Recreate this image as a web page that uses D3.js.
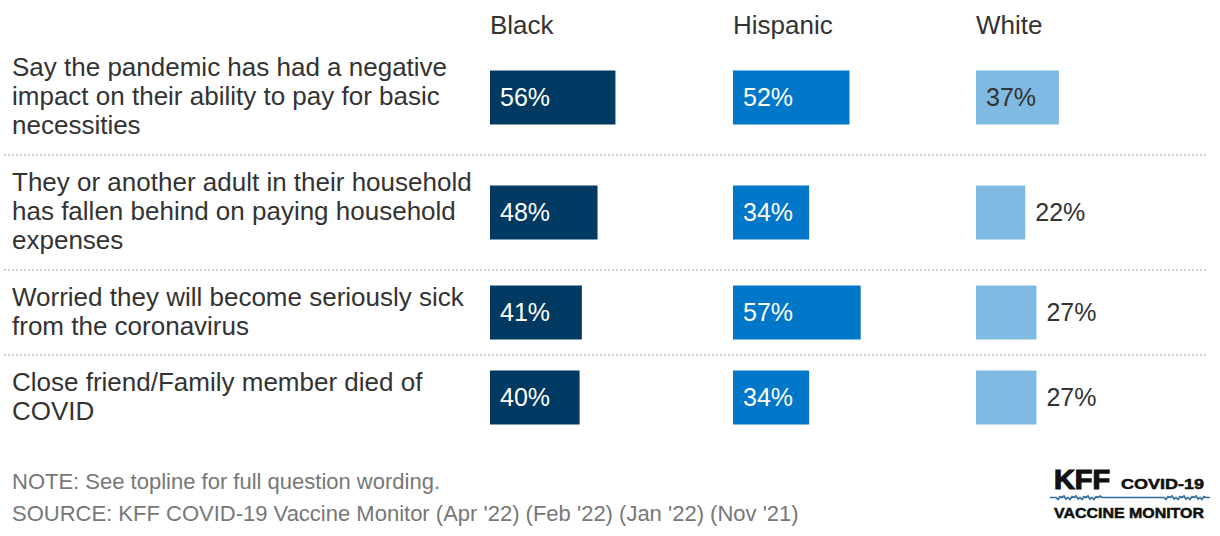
<!DOCTYPE html>
<html>
<head>
<meta charset="utf-8">
<script src="https://cdn.jsdelivr.net/npm/d3@7"></script>
<style>
  html, body { margin: 0; padding: 0; background: #fff; }
  svg { display: block; }
  text { font-family: "Liberation Sans", Arial, Helvetica, sans-serif; }
</style>
</head>
<body>
<svg id="chart" width="1220" height="536"></svg>
<script>
// ---- Data ----
const groups = ["Black", "Hispanic", "White"];
const categories = [
  ["Say the pandemic has had a negative", "impact on their ability to pay for basic", "necessities"],
  ["They or another adult in their household", "has fallen behind on paying household", "expenses"],
  ["Worried they will become seriously sick", "from the coronavirus"],
  ["Close friend/Family member died of", "COVID"]
];
const blackValues    = [56, 48, 41, 40];
const hispanicValues = [52, 34, 57, 34];
const whiteValues    = [37, 22, 27, 27];
const noteText = "NOTE: See topline for full question wording.";
const sourceText = "SOURCE: KFF COVID-19 Vaccine Monitor (Apr '22) (Feb '22) (Jan '22) (Nov '21)";

const seriesValues = { "Black": blackValues, "Hispanic": hispanicValues, "White": whiteValues };
const colors = { "Black": "#003a63", "Hispanic": "#0077c8", "White": "#80bae2" };
const insideTextColor = { "Black": "#ffffff", "Hispanic": "#ffffff", "White": "#333333" };

// ---- Layout ----
const svg = d3.select("#chart");
const labelX = 12;
const headerBaseline = 34;
const rowsTop = 40;
const lineH = 29;
const barH = 54;
const fontLabel = 26;
const fontValue = 25;

const colScale = d3.scaleBand().domain(groups).range([490, 1219]).paddingInner(0);
const xScale = d3.scaleLinear().domain([0, 100]).range([0, 224]);

// row heights depend on number of label lines
const rowHeights = categories.map(c => c.length * 30 + 25);
const rowTops = [];
let acc = rowsTop;
rowHeights.forEach(h => { rowTops.push(acc); acc += h; });

// headers
svg.append("g").selectAll("text").data(groups).join("text")
  .attr("x", d => colScale(d))
  .attr("y", headerBaseline)
  .attr("font-size", fontLabel)
  .attr("fill", "#333")
  .text(d => d);

// separators
svg.append("g").selectAll("line").data(rowTops.slice(1)).join("line")
  .attr("x1", 4).attr("x2", 1208)
  .attr("y1", d => d).attr("y2", d => d)
  .attr("stroke", "#cfcfcf")
  .attr("stroke-width", 2)
  .attr("stroke-dasharray", "2,2");

// rows
categories.forEach((lines, i) => {
  const cy = rowTops[i] + rowHeights[i] / 2;
  const g = svg.append("g");
  g.selectAll("text.cat").data(lines).join("text")
    .attr("class", "cat")
    .attr("x", labelX)
    .attr("y", (d, j) => cy + (j - (lines.length - 1) / 2) * lineH)
    .attr("dy", "0.3em")
    .attr("font-size", fontLabel)
    .attr("fill", "#333")
    .text(d => d);

  groups.forEach(grp => {
    const v = seriesValues[grp][i];
    const x0 = colScale(grp);
    const w = xScale(v);
    g.append("rect")
      .attr("x", x0)
      .attr("y", cy - barH / 2)
      .attr("width", w)
      .attr("height", barH)
      .attr("fill", colors[grp]);
    const inside = w >= 70;
    g.append("text")
      .attr("x", inside ? x0 + 10 : x0 + w + 10)
      .attr("y", cy)
      .attr("dy", "0.35em")
      .attr("font-size", fontValue)
      .attr("fill", inside ? insideTextColor[grp] : "#333")
      .text(v + "%");
  });
});

// footer
svg.append("text").attr("x", 12).attr("y", 489)
  .attr("font-size", 22).attr("fill", "#777").text(noteText);
svg.append("text").attr("x", 12).attr("y", 521)
  .attr("font-size", 22).attr("fill", "#777").text(sourceText);

// logo
const logo = svg.append("g");
logo.append("text").attr("x", 1054).attr("y", 488.5)
  .attr("font-family", "'Open Sans', sans-serif").attr("font-weight", "bold")
  .attr("font-size", 27).attr("fill", "#111")
  .attr("stroke", "#111").attr("stroke-width", 1.2)
  .attr("textLength", 56).attr("lengthAdjust", "spacingAndGlyphs")
  .text("KFF");
logo.append("text").attr("x", 1121).attr("y", 488.5)
  .attr("font-family", "'Open Sans', sans-serif").attr("font-weight", "bold")
  .attr("font-size", 14.5).attr("fill", "#111")
  .attr("stroke", "#111").attr("stroke-width", 0.5)
  .attr("textLength", 83).attr("lengthAdjust", "spacingAndGlyphs")
  .text("COVID-19");
// heartbeat line
const beat = [];
for (let x = 1050; x <= 1210; x += 2) {
  let y = 497.5;
  const inA = x > 1056 && x < 1102, inB = x > 1164 && x < 1208;
  if (inA || inB) {
    const k = Math.round((x - 1050) / 2) % 6;
    y += [0, -1.5, 1.5, 0, 2, -1][k];
  }
  beat.push([x, y]);
}
logo.append("path").attr("d", d3.line()(beat))
  .attr("fill", "none").attr("stroke", "#2f6da3").attr("stroke-width", 1.6);
logo.append("text").attr("x", 1054).attr("y", 517.5)
  .attr("font-family", "'Open Sans', sans-serif").attr("font-weight", "bold")
  .attr("font-size", 14.5).attr("fill", "#111")
  .attr("stroke", "#111").attr("stroke-width", 0.5)
  .attr("textLength", 150).attr("lengthAdjust", "spacingAndGlyphs")
  .text("VACCINE MONITOR");
</script>
</body>
</html>
